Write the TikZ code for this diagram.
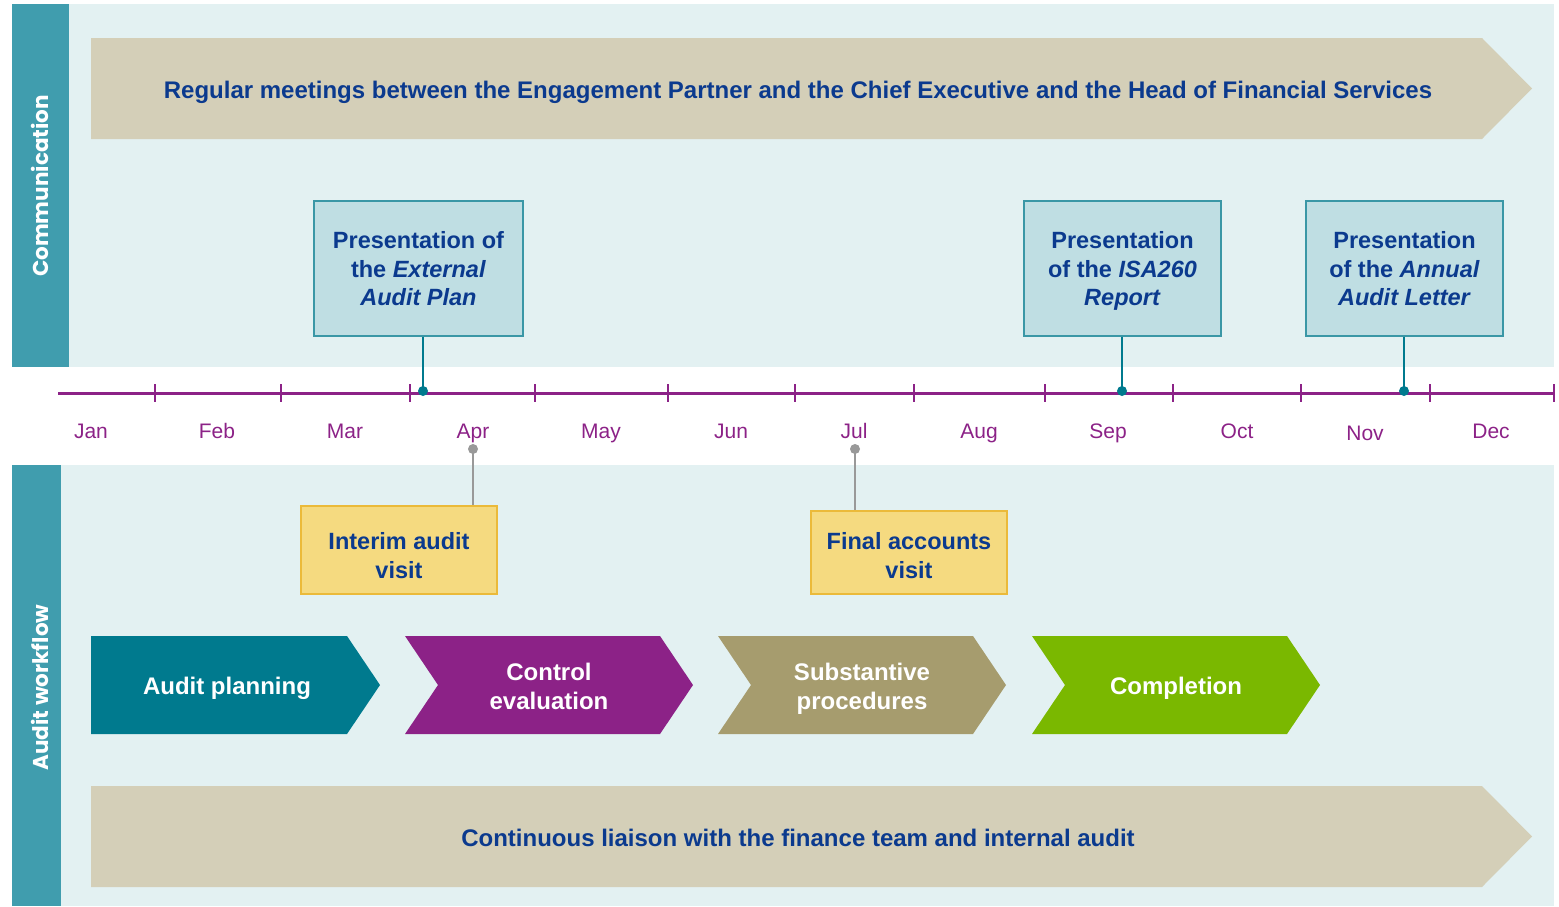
\documentclass[tikz,border=0pt]{standalone}
\usepackage{fontspec}
\setmainfont{Liberation Sans}
\newfontfamily\sidefont{Poppins}
\usetikzlibrary{positioning}

\definecolor{bandbg}{HTML}{E3F1F2}
\definecolor{sidebar}{HTML}{409DAE}
\definecolor{beige}{HTML}{D4CFB8}
\definecolor{navy}{HTML}{0B3A8E}
\definecolor{boxfill}{HTML}{BFDEE3}
\definecolor{boxline}{HTML}{3A97A6}
\definecolor{tealdark}{HTML}{007A8E}
\definecolor{plum}{HTML}{8C2287}
\definecolor{sand}{HTML}{F5DA80}
\definecolor{sandline}{HTML}{EBBA3A}
\definecolor{khaki}{HTML}{A69C6E}
\definecolor{lime}{HTML}{7AB800}
\definecolor{stemgray}{HTML}{999999}

\tikzset{
	pres/.style={draw=boxline, line width=1.2pt, fill=boxfill, text=navy, align=center, text depth=0pt,
		font=\fontsize{23.5}{28.5}\selectfont\bfseries, minimum height=135pt, inner sep=0pt},
	visit/.style={draw=sandline, line width=1.2pt, fill=sand, minimum width=196pt, inner sep=0pt},
	visittext/.style={text=navy, align=center, text depth=0pt, inner sep=0pt,
		font=\fontsize{23.5}{29}\selectfont\bfseries},
	month/.style={text=plum, text height=15pt, text depth=0pt, font=\fontsize{21}{21}\selectfont},
	phase/.style={text=white, align=center, text depth=0pt, font=\fontsize{24}{29}\selectfont\bfseries},
	banner/.style={text=navy, text depth=0pt, font=\fontsize{24}{29}\selectfont\bfseries},
	side/.style={text=white, rotate=90, text depth=0pt, font=\sidefont\fontsize{21.5}{21.5}\selectfont\bfseries},
	dot/.style={circle, fill=#1, inner sep=0pt, minimum size=10pt},
}

\begin{document}
\begin{tikzpicture}[x=1pt, y=-1pt]
		\useasboundingbox (0,0) rectangle (1559,906);
		\fill[bandbg] (12,4) rectangle (1554,367);
		\fill[sidebar] (12,4) rectangle (69,367);
		\fill[bandbg] (12,465) rectangle (1554,906);
		\fill[sidebar] (12,465) rectangle (61,906);
		\node[side] (comm) at (39.5,186) {Communication};
		\node[side] (flow) at (40,687.5) {Audit workflow};

		% banners
		\fill[beige] (91,38) -- (1482,38) -- (1532,88.5) -- (1482,139) -- (91,139) -- cycle;
		\node[banner] (meet) at (798,90) {Regular meetings between the Engagement Partner and the Chief Executive and the Head of Financial Services};
		\fill[beige] (91,786) -- (1482,786) -- (1532,836.5) -- (1482,887) -- (91,887) -- cycle;
		\node[banner] (liaise) at (798,838) {Continuous liaison with the finance team and internal audit};

		% timeline
		\draw[plum, line width=3pt] (58,393) -- (1554,393);
		\foreach \x in {155,281,410,535,668,795,914,1045,1173,1301,1430,1554}
			\draw[plum, line width=2.5pt] (\x,384) -- (\x,402);
		\foreach \x/\y/\m in {91/431/Jan, 217/431/Feb, 345/431/Mar, 473/431/Apr, 601/431/May, 731/431/Jun,
			854/431/Jul, 979/431/Aug, 1108/431/Sep, 1237/431/Oct, 1365/433/Nov, 1491/431/Dec}
			\node[month] (m-\m) at (\x,\y) {\m};

		% presentations
		\node[pres, minimum width=209pt] (plan) at (418.5,268.5) {Presentation of\\the \textit{External}\\\textit{Audit Plan}};
		\node[pres, minimum width=197pt] (isa) at (1122.5,268.5) {Presentation\\of the \textit{ISA260}\\\textit{Report}};
		\node[pres, minimum width=197pt] (letter) at (1404.5,268.5) {Presentation\\of the \textit{Annual}\\\textit{Audit Letter}};
		\path	(423,391) node[dot=tealdark] (d-plan) {}
			(1122,391) node[dot=tealdark] (d-isa) {}
			(1404,391) node[dot=tealdark] (d-letter) {};
		\foreach \n in {plan, isa, letter}
			\draw[tealdark, line width=2.5pt] (d-\n |- \n.south) -- (d-\n.center);

		% visits
		\node[visit, minimum height=88pt] (interim) at (399,550) {};
		\node[visit, minimum height=83pt] (final) at (909,552.5) {};
		\node[visittext, above=16pt of interim.south] (interim-t) {Interim audit\\visit};
		\node[visittext, above=16pt of final.south] (final-t) {Final accounts\\visit};
		\path	(473,449) node[dot=stemgray] (g-interim) {}
			(855,449) node[dot=stemgray] (g-final) {};
		\foreach \n in {interim, final}
			\draw[stemgray, line width=2.5pt] (g-\n.center) -- (g-\n |- \n.north);

		% phases
		\fill[tealdark] (91,636) -- (347,636) -- (380,685) -- (347,734) -- (91,734) -- cycle;
		\foreach \x/\c in {405/plum, 718/khaki, 1032/lime}
			\fill[\c] (\x,636) -- ++(255,0) -- ++(33,49) -- ++(-33,49) -- ++(-255,0) -- ++(33,-49) -- cycle;
		\node[phase] (p-plan) at (227,686) {Audit planning};
		\node[phase] (p-ctrl) at (549,686) {Control\\evaluation};
		\node[phase] (p-subst) at (862,686) {Substantive\\procedures};
		\node[phase] (p-compl) at (1176,686) {Completion};
	\end{tikzpicture}
\end{document}
